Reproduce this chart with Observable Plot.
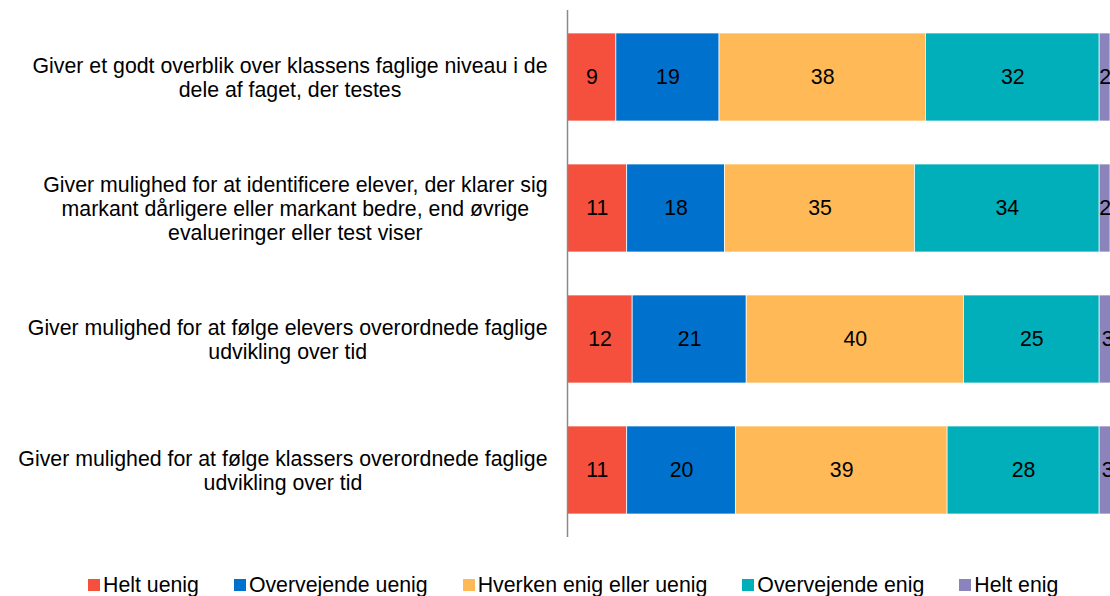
<!DOCTYPE html>
<html>
<head>
<meta charset="utf-8">
<script src="https://cdn.jsdelivr.net/npm/d3@7"></script>
<script src="https://cdn.jsdelivr.net/npm/@observablehq/plot@0.6"></script>
<style>
  body { margin: 0; background: #fff; font-family: "Liberation Sans", Arial, sans-serif; }
  #legend { display: flex; align-items: center; padding: 24px 0 0 88px; height: 22px; font-size: 21.3px; color: #000; white-space: nowrap; }
  .item { display: flex; align-items: center; margin-right: 35px; }
  .sw { width: 12px; height: 12px; margin-right: 3px; }
</style>
</head>
<body>
<div id="chart"></div>
<div id="legend"></div>
<script>
const categories = [
  "Giver et godt overblik over klassens faglige niveau i de\ndele af faget, der testes",
  "Giver mulighed for at identificere elever, der klarer sig\nmarkant dårligere eller markant bedre, end øvrige\nevalueringer eller test viser",
  "Giver mulighed for at følge elevers overordnede faglige\nudvikling over tid",
  "Giver mulighed for at følge klassers overordnede faglige\nudvikling over tid"
];
const seriesNames = ["Helt uenig", "Overvejende uenig", "Hverken enig eller uenig", "Overvejende enig", "Helt enig"];
const colors = ["#F5503E", "#0072CE", "#FFB957", "#00AFB9", "#8B83BB"];
const heltUenig = [9, 11, 12, 11];
const overvejendeUenig = [19, 18, 21, 20];
const hverken = [38, 35, 40, 39];
const overvejendeEnig = [32, 34, 25, 28];
const heltEnig = [2, 2, 3, 3];

const seriesValues = [heltUenig, overvejendeUenig, hverken, overvejendeEnig, heltEnig];
const data = [];
categories.forEach((c, i) => {
  seriesNames.forEach((s, j) => data.push({cat: c, series: s, value: seriesValues[j][i]}));
});

const FS = 21.3;
const FONT = FS + "px 'Liberation Sans', Arial, sans-serif";
const ctx = document.createElement("canvas").getContext("2d");
ctx.font = FONT;
const labelRight = 547;
const labelMarks = categories.map(c => {
  const w = d3.max(c.split("\n"), l => ctx.measureText(l).width);
  const center = labelRight - w / 2;
  return Plot.text([c], {
    y: d => d, text: d => d, frameAnchor: "left", textAnchor: "middle",
    dx: center - 567, lineAnchor: "middle", lineHeight: 1.12,
    fontSize: FS, fill: "#000"
  });
});

const chart = Plot.plot({
  width: 1110,
  height: 550,
  marginLeft: 567,
  marginRight: 0,
  marginTop: 10,
  marginBottom: 13,
  style: {fontFamily: "'Liberation Sans', Arial, sans-serif", fontSize: FS + "px", background: "#fff"},
  x: {domain: [0, 100], axis: null},
  y: {domain: categories, axis: null, paddingInner: 0.33, paddingOuter: 0.167},
  color: {domain: seriesNames, range: colors},
  marks: [
    Plot.barX(data, Plot.stackX({x: "value", y: "cat", z: "series", order: seriesNames, fill: "series", stroke: "#fff", strokeWidth: 0.7})),
    Plot.text(data, Plot.stackX({x: "value", y: "cat", z: "series", order: seriesNames, text: "value", fill: "#000", fontSize: FS})),
    Plot.ruleX([0], {stroke: "#8a8a8a", strokeWidth: 1.5}),
    ...labelMarks
  ]
});
document.getElementById("chart").appendChild(chart);

const legend = document.getElementById("legend");
seriesNames.forEach((s, i) => {
  const item = document.createElement("div");
  item.className = "item";
  const sw = document.createElement("div");
  sw.className = "sw";
  sw.style.background = colors[i];
  const t = document.createElement("span");
  t.textContent = s;
  item.appendChild(sw);
  item.appendChild(t);
  legend.appendChild(item);
});
</script>
</body>
</html>
